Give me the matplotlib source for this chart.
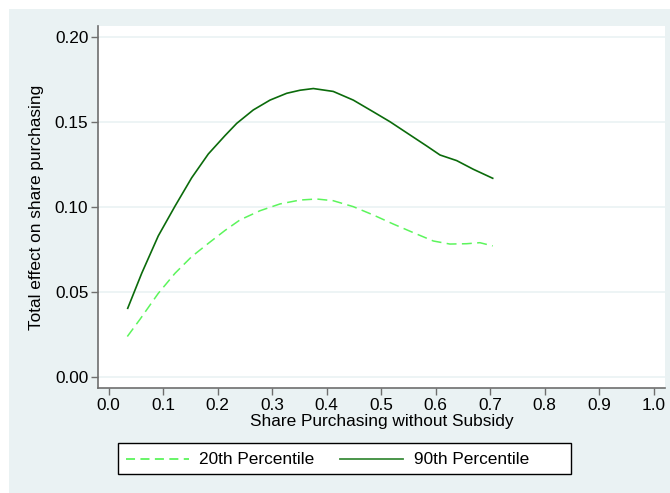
import matplotlib
matplotlib.use("Agg")
import matplotlib.pyplot as plt
from matplotlib.patches import Rectangle
from matplotlib.lines import Line2D

plt.rcParams['font.family'] = ['Liberation Sans', 'DejaVu Sans']

# Data
x_90 = [0.0349, 0.0606, 0.0910, 0.1217, 0.1523, 0.1828, 0.2134, 0.2349, 0.2653,
        0.296, 0.3266, 0.351, 0.3755, 0.412, 0.4488, 0.4855, 0.516, 0.5528, 0.5835,
        0.6079, 0.6385, 0.669, 0.7046]
y_90 = [0.0404, 0.0610, 0.0830, 0.1005, 0.1172, 0.1312, 0.1420, 0.1492, 0.1571,
        0.1629, 0.1669, 0.1687, 0.1697, 0.1680, 0.1629, 0.1560, 0.1502, 0.1424, 0.1359,
        0.1306, 0.1273, 0.1222, 0.1169]

x_20 = [0.0342, 0.0574, 0.0910, 0.1217, 0.1523, 0.1828, 0.2134, 0.2409, 0.2776, 0.3143,
        0.351, 0.3816, 0.412, 0.4488, 0.4855, 0.522, 0.559, 0.5956, 0.626, 0.657,
        0.681, 0.7046]
y_20 = [0.0238, 0.0339, 0.0492, 0.0610, 0.0708, 0.0786, 0.0862, 0.0924, 0.0978, 0.1018,
        0.1041, 0.1047, 0.1037, 0.1002, 0.0953, 0.0900, 0.0849, 0.0800, 0.0782, 0.0784,
        0.0790, 0.0771]

x_ticks = [0.0, 0.1, 0.2, 0.3, 0.4, 0.5, 0.6, 0.7, 0.8, 0.9, 1.0]
y_ticks = [0.00, 0.05, 0.10, 0.15, 0.20]
labels = ['20th Percentile', '90th Percentile']

W, H = 670, 493
FS = 12.4
fig = plt.figure(figsize=(W / 100, H / 100), dpi=100)
fig.patch.set_facecolor('white')
bg = '#EAF2F3'
fig.patches.append(Rectangle((9 / W, 0), 1 - 9 / W, 1 - 9 / H, transform=fig.transFigure,
                             facecolor=bg, edgecolor='none', zorder=-10))

ax = fig.add_axes([98 / W, 1 - 388 / H, (665 - 98) / W, (388 - 26) / H])
ax.set_facecolor('white')

dark = '#0B6B0B'
light = '#5CF55C'
ax.plot(x_20, y_20, color=light, lw=1.1, dashes=(6.5, 3.5), zorder=3)
ax.plot(x_90, y_90, color=dark, lw=1.2, zorder=4)

ax.set_xlim(-0.0196, 1.0207)
ax.set_ylim(-0.0065, 0.2065)
ax.set_xticks(x_ticks)
ax.set_xticklabels([f'{v:.1f}' for v in x_ticks])
ax.set_yticks(y_ticks)
ax.set_yticklabels([f'{v:.2f}' for v in y_ticks])
ax.yaxis.grid(True, color='#EAF2F3', lw=1.2)
ax.set_axisbelow(True)

for s in ['top', 'right']:
    ax.spines[s].set_visible(False)
for s in ['left', 'bottom']:
    ax.spines[s].set_color('#6E6E6E')
    ax.spines[s].set_linewidth(1.2)
ax.tick_params(axis='both', direction='out', length=5, width=1, color='#6E6E6E',
               labelsize=FS, labelcolor='black', pad=2)

ax.set_xlabel('Share Purchasing without Subsidy', fontsize=FS, labelpad=1)
ax.set_ylabel('Total effect on share purchasing', fontsize=FS, labelpad=8)

# Legend box (Stata style) built in figure pixel coordinates
def fx(px):
    return px / W

def fy(py):
    return 1 - py / H

fig.patches.append(Rectangle((fx(118), fy(474)), fx(571) - fx(118), fy(443) - fy(474),
                             transform=fig.transFigure, facecolor='white',
                             edgecolor='black', lw=1.0, zorder=5))
ly = fy(459)
fig.add_artist(Line2D([fx(126), fx(189)], [ly, ly], transform=fig.transFigure,
                      color=light, lw=1.3, dashes=(5, 3), zorder=6))
fig.text(fx(199), ly, labels[0], fontsize=FS, va='center', ha='left', zorder=6)
fig.add_artist(Line2D([fx(340), fx(403)], [ly, ly], transform=fig.transFigure,
                      color='#3C8C3C', lw=1.3, zorder=6))
fig.text(fx(414), ly, labels[1], fontsize=FS, va='center', ha='left', zorder=6)

fig.savefig('out.png', dpi=100, facecolor=fig.get_facecolor())
